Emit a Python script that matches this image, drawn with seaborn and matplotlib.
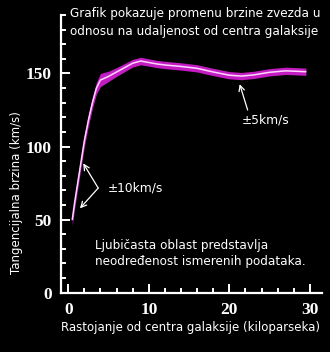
import matplotlib
matplotlib.use("Agg")
import matplotlib.pyplot as plt
from matplotlib.ticker import MultipleLocator
import numpy as np
import seaborn as sns

# Galactic rotation curve: radius (kpc), tangential speed (km/s), uncertainty
radius = [0.5, 0.8, 1.2, 1.6, 2.0, 2.5, 3.0, 3.5, 4.0, 5.0, 6.0, 7.0, 8.0, 9.0,
          10.0, 11.0, 12.0, 14.0, 16.0, 18.0, 20.0, 21.5, 23.0, 25.0, 27.0, 29.5]
speed = [50, 62, 76, 90, 104, 118, 130, 140, 145.5, 148, 151, 154, 157, 158.5,
         157.5, 156.5, 155.8, 154.8, 153.5, 151, 148.8, 148.2, 149, 150.8, 151.8, 151.2]
spread = [4, 4, 4, 4, 4, 4, 4, 4, 4.5, 3.5, 3, 2.8, 2.6, 2.6,
          2.5, 2.5, 2.5, 2.5, 2.5, 2.5, 2.5, 2.5, 2.5, 2.5, 2.5, 2.5]

x_ticks = [0, 10, 20, 30]
y_ticks = [0, 50, 100, 150]

title_lines = ["Grafik pokazuje promenu brzine zvezda u",
               "odnosu na udaljenost od centra galaksije"]
note_lines = ["Ljubičasta oblast predstavlja",
              "neodređenost ismerenih podataka."]
x_label = "Rastojanje od centra galaksije (kiloparseka)"
y_label = "Tangencijalna brzina (km/s)"

sns.set_theme(style="ticks")
plt.rcParams["font.family"] = ["DejaVu Sans"]

W, H = 330, 352
fig = plt.figure(figsize=(W / 100, H / 100), dpi=100, facecolor="black")
ax = fig.add_axes([61 / W, 1 - 292.7 / H, (322 - 61) / W, (292.7 - 15) / H])
ax.set_facecolor("black")

r = np.array(radius)
v = np.array(speed)
e = np.array(spread)
ax.fill_between(r, v - e, v + e, color="#c21cc2", lw=0, zorder=2)
sns.lineplot(x=r, y=v, ax=ax, color="#ffd6ff", lw=1.1, zorder=3)

ax.set_xlim(-0.9, 31.5)
ax.set_ylim(0, 190)
ax.set_xticks(x_ticks)
ax.set_yticks(y_ticks)
ax.xaxis.set_minor_locator(MultipleLocator(2))
ax.yaxis.set_minor_locator(MultipleLocator(10))
ax.set_xlabel("")
ax.set_ylabel("")

for side in ("top", "right"):
    ax.spines[side].set_visible(False)
for side in ("left", "bottom"):
    ax.spines[side].set_color("white")
    ax.spines[side].set_linewidth(1.6)

ax.tick_params(which="both", direction="in", colors="white", width=1.4, pad=6.5)
ax.tick_params(which="major", length=6.5)
ax.tick_params(which="minor", length=3.5)
for lab in ax.get_xticklabels() + ax.get_yticklabels():
    lab.set_fontfamily("Liberation Serif")
    lab.set_fontweight("bold")
    lab.set_fontsize(12.5)
    lab.set_color("white")

arrow = dict(arrowstyle="->", color="white", lw=0.9, shrinkA=0, shrinkB=0,
             mutation_scale=10)
ax.annotate("", xy=(21.28, 142.7), xytext=(22.27, 125), arrowprops=arrow)
ax.annotate("", xy=(1.86, 88.5), xytext=(3.72, 71.6), arrowprops=arrow)
ax.annotate("", xy=(1.45, 57.7), xytext=(3.72, 71.6), arrowprops=arrow)
ax.text(21.5, 118, "±5km/s", color="white", fontsize=8.8, va="center", ha="left")
ax.text(4.9, 71.6, "±10km/s", color="white", fontsize=8.8, va="center", ha="left")

def px(x, y):
    return x / W, 1 - y / H

fs = 8.65
fig.text(*px(70, 14), title_lines[0], color="white", fontsize=fs, va="center", ha="left")
fig.text(*px(70, 32), title_lines[1], color="white", fontsize=fs, va="center", ha="left")
fig.text(*px(95, 245), note_lines[0], color="white", fontsize=fs, va="center", ha="left")
fig.text(*px(95, 261), note_lines[1], color="white", fontsize=fs, va="center", ha="left")
fig.text(*px(190, 327), x_label, color="white", fontsize=8.5, va="center", ha="center")
fig.text(*px(17, 193), y_label, color="white", fontsize=8.5, va="center", ha="center",
         rotation=90)

fig.savefig("out.png", dpi=100, facecolor="black")
